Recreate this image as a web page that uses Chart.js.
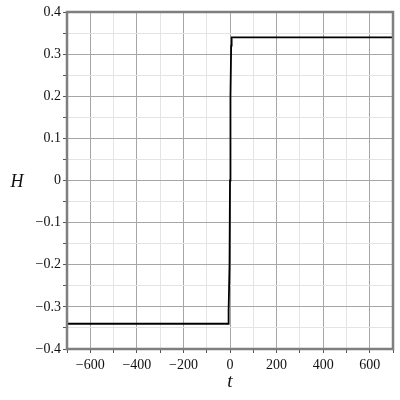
<!DOCTYPE html>
<html>
<head>
<meta charset="utf-8">
<script src="https://cdn.jsdelivr.net/npm/chart.js@4"></script>
<style>
  html, body { margin: 0; padding: 0; background: #fff; }
  #wrap { width: 400px; height: 400px; }
</style>
</head>
<body>
<div id="wrap"><canvas id="stepChart"></canvas></div>
<script>
// H(t): flat at -0.34, sharp rise near t = 0, flat at 0.34
const tValues = [-700, -8, -6, -2, 0, 2, 5, 7, 700];
const hValues = [-0.34, -0.34, -0.31, -0.2, 0, 0.2, 0.32, 0.34, 0.34];

const xMin = -700, xMax = 700, xStep = 100;
const yMin = -0.4, yMax = 0.4, yStep = 0.05;

const serif = 'Liberation Serif, Times New Roman, serif';

// box around the plot + the horizontal "H" label
const framePlugin = {
    id: 'frame',
    afterDraw(chart) {
        const { ctx, chartArea: a } = chart;
        ctx.save();
        ctx.strokeStyle = '#7f7f7f';
        ctx.lineWidth = 2.5;
        ctx.strokeRect(a.left, a.top, a.right - a.left, a.bottom - a.top);
        ctx.fillStyle = '#111';
        ctx.font = 'italic 18px ' + serif;
        ctx.textAlign = 'center';
        ctx.textBaseline = 'middle';
        ctx.fillText('H', 17, chart.scales.y.getPixelForValue(0) + 2);
        ctx.restore();
    }
};

const isMajorY = v => Math.abs(Math.round(v * 20)) % 2 === 0;
const isMajorX = v => Math.abs(Math.round(v / 100)) % 2 === 0;

const ctx = document.getElementById('stepChart');
new Chart(ctx, {
    type: 'line',
    data: {
        datasets: [
            {
                data: tValues.map((t, i) => ({ x: t, y: hValues[i] })),
                borderColor: '#000',
                borderWidth: 1.8,
                pointRadius: 0,
                tension: 0,
                fill: false
            }
        ]
    },
    options: {
        responsive: true,
        maintainAspectRatio: false,
        animation: false,
        layout: { padding: { top: 12, right: 7, left: 0, bottom: 0 } },
        plugins: {
            legend: { display: false },
            tooltip: { enabled: false }
        },
        scales: {
            x: {
                type: 'linear',
                min: xMin,
                max: xMax,
                ticks: {
                    stepSize: xStep,
                    autoSkip: false,
                    maxRotation: 0,
                    color: '#111',
                    font: { family: serif, size: 14 },
                    padding: 4,
                    callback: v => isMajorX(v) ? (v < 0 ? '\u2212' + Math.abs(v) : String(v)) : ''
                },
                grid: {
                    color: c => isMajorX(c.tick.value) ? '#a6a6a6' : '#e4e4e4',
                    lineWidth: 1,
                    tickLength: 4,
                    tickColor: '#555'
                },
                border: { display: false },
                title: {
                    display: true,
                    text: 't',
                    color: '#111',
                    font: { family: serif, size: 19, style: 'italic' },
                    padding: { top: 0, bottom: 7 }
                },
                afterFit: s => { s.height = 51; }
            },
            y: {
                type: 'linear',
                min: yMin,
                max: yMax,
                ticks: {
                    stepSize: yStep,
                    autoSkip: false,
                    color: '#111',
                    font: { family: serif, size: 14 },
                    padding: 2,
                    callback: v => {
                        if (!isMajorY(v)) return '';
                        const r = Math.round(v * 10) / 10;
                        if (r === 0) return '0';
                        return r < 0 ? '\u2212' + Math.abs(r).toFixed(1) : r.toFixed(1);
                    }
                },
                grid: {
                    color: c => isMajorY(c.tick.value) ? '#a6a6a6' : '#e4e4e4',
                    lineWidth: 1,
                    tickLength: 4,
                    tickColor: '#555'
                },
                border: { display: false },
                afterFit: s => { s.width = 67; }
            }
        }
    },
    plugins: [framePlugin]
});
</script>
</body>
</html>
